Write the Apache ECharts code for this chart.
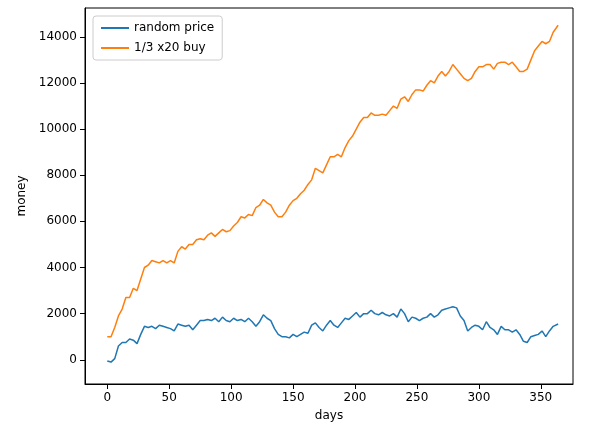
<!DOCTYPE html>
<html>
<head>
<meta charset="utf-8">
<script src="https://cdn.jsdelivr.net/npm/echarts@6/dist/echarts.min.js"></script>
<style>
    html, body { margin: 0; padding: 0; background: #fff; }
    #chart { width: 589px; height: 432px; }
</style>
</head>
<body>
<div id="chart"></div>
<script type="text/javascript">
// days sampled every 3 days (last point day 364)
var days = [];
for (var d = 0; d <= 360; d += 3) days.push(d);
days.push(364);

var price = [-50,-100,50,600,750,750,900,850,700,1100,1450,1400,1450,1350,1500,1450,1400,1350,1250,1550,
    1500,1450,1500,1300,1500,1700,1700,1750,1700,1800,1650,1850,1700,1650,1800,1700,1750,1650,1800,1650,
    1450,1650,1950,1800,1700,1350,1100,1000,1000,950,1100,1000,1100,1200,1150,1500,1600,1400,1250,1500,
    1700,1500,1400,1600,1800,1750,1900,2050,1850,2000,2000,2150,2000,1950,2050,1950,1900,2000,1850,2200,
    2000,1650,1850,1800,1700,1800,1850,2000,1850,1950,2150,2200,2250,2300,2250,1900,1700,1250,1400,1500,
    1450,1300,1650,1400,1300,1100,1450,1300,1300,1200,1300,1100,800,750,1000,1050,1100,1250,1000,1250,
    1450,1550];

var buy = [1000,1000,1400,1900,2200,2700,2700,3100,3000,3500,4000,4100,4300,4250,4200,4300,4200,4300,4200,4700,
    4900,4800,5000,5000,5200,5250,5200,5400,5500,5350,5500,5650,5550,5600,5800,5950,6200,6150,6300,6250,
    6600,6700,6950,6800,6700,6400,6200,6200,6400,6700,6900,7000,7200,7350,7600,7800,8300,8200,8100,8450,
    8800,8800,8900,8800,9200,9500,9700,10000,10300,10500,10500,10700,10600,10600,10650,10600,10800,11000,10900,11300,
    11400,11200,11500,11700,11700,11650,11900,12100,12000,12300,12500,12300,12500,12800,12600,12400,12200,12100,12200,12500,
    12700,12700,12800,12800,12600,12850,12900,12900,12800,12900,12700,12500,12500,12600,13000,13400,13600,13800,13700,13800,
    14200,14500];

var xTicks = [0, 50, 100, 150, 200, 250, 300, 350];
var yTicks = [0, 2000, 4000, 6000, 8000, 10000, 12000, 14000];

function pairs(vals) {
    return days.map(function (d, i) { return [d, vals[i]]; });
}

var chart = echarts.init(document.getElementById('chart'));
var labelStyle = { color: '#000', fontSize: 12, fontFamily: 'DejaVu Sans' };
var tickStyle = { length: 5, lineStyle: { color: '#000' } };
chart.setOption({
    animation: false,
    grid: { left: 85, right: 16, top: 8, bottom: 48, show: true, borderColor: '#000', borderWidth: 1 },
    legend: {
        left: 93, top: 16, orient: 'vertical', itemWidth: 28, itemHeight: 2, itemGap: 8,
        padding: [6, 8], borderColor: '#ccc', borderWidth: 1, borderRadius: 3,
        textStyle: labelStyle, icon: 'rect'
    },
    xAxis: {
        type: 'value', min: -18, max: 376,
        name: 'days', nameLocation: 'middle', nameGap: 26, nameTextStyle: labelStyle,
        axisLine: { onZero: false, lineStyle: { color: '#000' } },
        axisTick: Object.assign({ customValues: xTicks }, tickStyle),
        axisLabel: Object.assign({ customValues: xTicks }, labelStyle),
        splitLine: { show: false }
    },
    yAxis: {
        type: 'value', min: -1050, max: 15250,
        name: 'money', nameLocation: 'middle', nameGap: 52, nameTextStyle: labelStyle,
        axisLine: { onZero: false, lineStyle: { color: '#000' } },
        axisTick: Object.assign({ customValues: yTicks }, tickStyle),
        axisLabel: Object.assign({ customValues: yTicks, formatter: function (v) { return String(v); } }, labelStyle),
        splitLine: { show: false }
    },
    series: [
        { name: 'random price', type: 'line', data: pairs(price), showSymbol: false,
          lineStyle: { color: '#1f77b4', width: 1.5 }, itemStyle: { color: '#1f77b4' } },
        { name: '1/3 x20 buy', type: 'line', data: pairs(buy), showSymbol: false,
          lineStyle: { color: '#ff7f0e', width: 1.5 }, itemStyle: { color: '#ff7f0e' } }
    ]
});
</script>
</body>
</html>
